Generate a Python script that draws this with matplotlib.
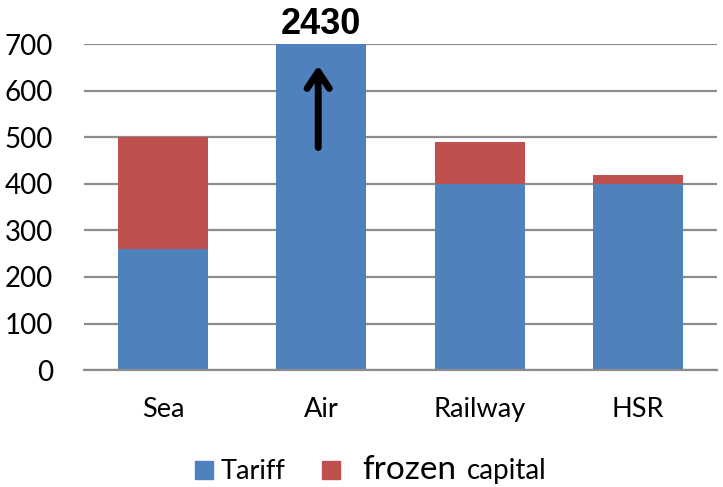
import matplotlib
matplotlib.use("Agg")
import matplotlib.pyplot as plt
from matplotlib.patches import Rectangle

# chart data
modes = ["Sea", "Air", "Railway", "HSR"]
tariff = [260, 2430, 400, 400]
frozen_capital = [240, 0, 90, 20]
y_ticks = [0, 100, 200, 300, 400, 500, 600, 700]

BLUE = "#4F81BD"
RED = "#C0504D"
GRID = "#8C8C8C"

plt.rcParams["font.family"] = ["Lato", "DejaVu Sans"]

fig = plt.figure(figsize=(7.23, 4.87), dpi=100)
ax = fig.add_axes([0.116, 0.240, 0.876, 0.6694])

x = range(len(modes))
ax.bar(x, tariff, width=0.57, color=BLUE, zorder=2)
ax.bar(x, frozen_capital, width=0.57, bottom=tariff, color=RED, zorder=2)

ax.set_ylim(0, y_ticks[-1])
ax.set_xlim(-0.5, len(modes) - 0.5)
ax.set_yticks(y_ticks)
ax.set_xticks(list(x))
ax.set_xticklabels(modes)
ax.tick_params(axis="y", length=0, pad=22, labelsize=20)
ax.tick_params(axis="x", length=0, pad=19, labelsize=19.5)
ax.yaxis.grid(True, color=GRID, linewidth=1.6, zorder=1)
ax.set_axisbelow(True)
for side in ["left", "right", "top"]:
    ax.spines[side].set_visible(False)
ax.spines["bottom"].set_color(GRID)
ax.spines["bottom"].set_linewidth(1.6)

# Air bar is off the scale: show its real value with an arrow
air = modes.index("Air")
ax.text(air, 705, str(tariff[air]), ha="center", va="bottom",
        fontsize=26, fontweight="bold", family="Liberation Sans")
ax.annotate("", xy=(air - 0.02, 660), xytext=(air - 0.02, 472),
            arrowprops=dict(arrowstyle="->,head_length=1.2,head_width=0.8",
                            lw=5, color="black", capstyle="round",
                            joinstyle="round"))

# legend drawn by hand (mixed font sizes like the original)
W, H = 723.0, 487.0
base = 479
fig.patches.append(Rectangle((195 / W, 1 - base / H), 18 / W, 18 / H,
                             transform=fig.transFigure, color=BLUE))
fig.text(221 / W, 1 - base / H, "Tariff", fontsize=19.5, va="baseline")
fig.patches.append(Rectangle((322 / W, 1 - base / H), 18 / W, 18 / H,
                             transform=fig.transFigure, color=RED))
fig.text(362 / W, 1 - base / H, "frozen", fontsize=24, va="baseline")
fig.text(467 / W, 1 - base / H, "capital", fontsize=20, va="baseline")

fig.savefig("out.png", dpi=100)
